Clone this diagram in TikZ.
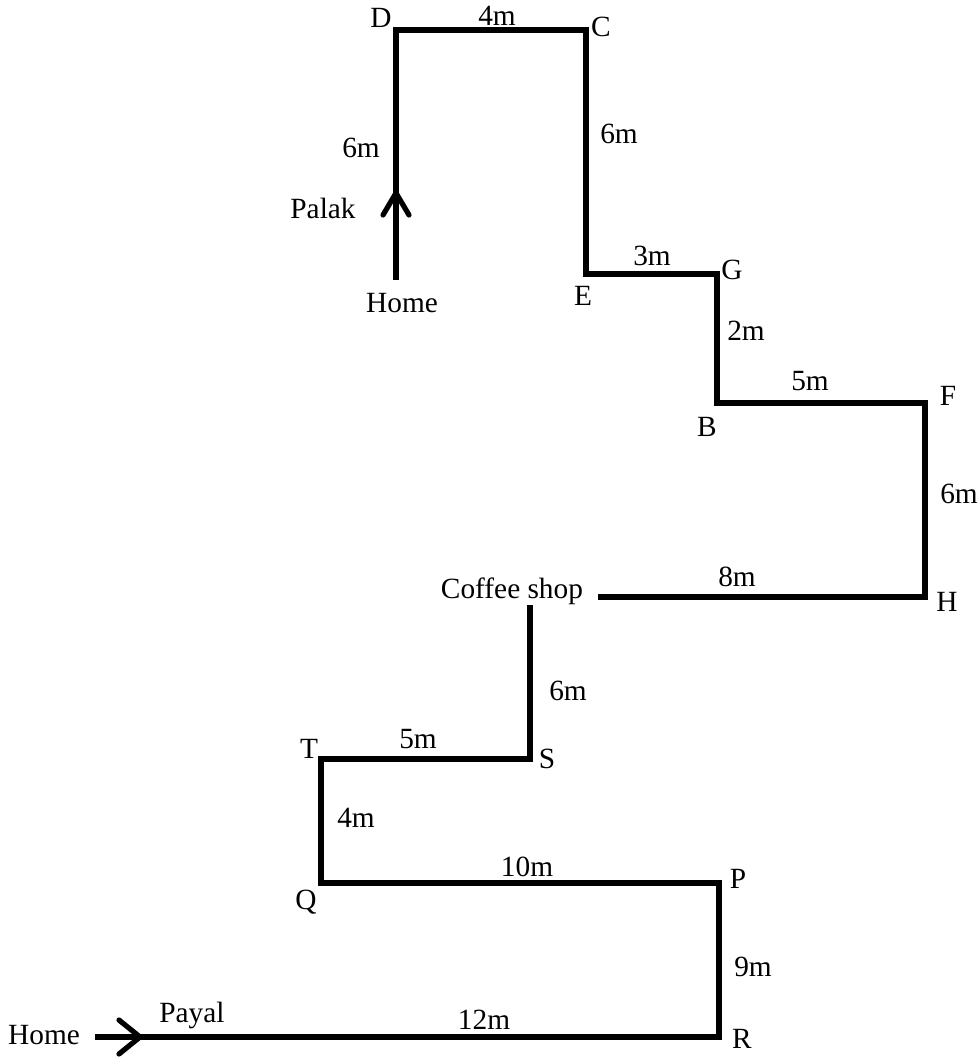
\documentclass[tikz,border=0pt]{standalone}
\usepackage{fontspec}
\setmainfont{Liberation Serif}
\begin{document}
\begin{tikzpicture}[x=0.75pt,y=-0.75pt,
  path/.style={line width=3.9pt,line join=miter},
  chev/.style={line width=3.9pt,line cap=round,line join=miter},
  lbl/.style={font=\fontsize{22}{26}\selectfont,inner sep=0pt}]
\useasboundingbox (0,0) rectangle (978,1057);
% Palak route corners
\coordinate (PH) at (396,280);
\coordinate (D) at (396,30);
\coordinate (C) at (586,30);
\coordinate (E) at (586,274);
\coordinate (G) at (717,274);
\coordinate (B) at (717,403);
\coordinate (F) at (925,403);
\coordinate (H) at (925,597);
\coordinate (CS1) at (598,597);
\draw[path] (PH) -- (D) -- (C) -- (E) -- (G) -- (B) -- (F) -- (H) -- (CS1);
\coordinate (PA) at (396,193);
\coordinate (PA1) at (383,215);
\coordinate (PA2) at (409,215);
\draw[chev] (PA1) -- (PA) -- (PA2);
% Payal route corners
\coordinate (YH) at (95,1037);
\coordinate (R) at (719,1037);
\coordinate (P) at (719,883);
\coordinate (Q) at (321,883);
\coordinate (T) at (321,759);
\coordinate (S) at (530,759);
\coordinate (CS2) at (530,605);
\draw[path] (YH) -- (R) -- (P) -- (Q) -- (T) -- (S) -- (CS2);
\coordinate (YA) at (140,1037);
\coordinate (YA1) at (119,1020);
\coordinate (YA2) at (119,1054);
\draw[chev] (YA1) -- (YA) -- (YA2);
% labels
\node[lbl] (lD) at (381,18) {D};
\node[lbl] (lC) at (601,27) {C};
\node[lbl] (l4m) at (497,16) {4m};
\node[lbl] (l6a) at (361,148) {6m};
\node[lbl] (lPalak) at (323,208) {Palak};
\node[lbl] (lHome1) at (402,303) {Home};
\node[lbl] (l6b) at (619,134) {6m};
\node[lbl] (lE) at (583,296) {E};
\node[lbl] (l3m) at (652,256) {3m};
\node[lbl] (lG) at (732,270) {G};
\node[lbl] (l2m) at (746,331) {2m};
\node[lbl] (l5a) at (810,381) {5m};
\node[lbl] (lF) at (948,396) {F};
\node[lbl] (lB) at (707,427) {B};
\node[lbl] (l6c) at (959,494) {6m};
\node[lbl] (lH) at (947,602) {H};
\node[lbl] (l8m) at (737,577) {8m};
\node[lbl] (lCS) at (512,591) {Coffee shop};
\node[lbl] (l6d) at (568,691) {6m};
\node[lbl] (lT) at (309,749) {T};
\node[lbl] (lS) at (547,759) {S};
\node[lbl] (l5b) at (418,739) {5m};
\node[lbl] (l4b) at (356,818) {4m};
\node[lbl] (l10) at (527,867) {10m};
\node[lbl] (lP) at (738,879) {P};
\node[lbl] (lQ) at (306,902) {Q};
\node[lbl] (l9m) at (753,967) {9m};
\node[lbl] (lR) at (742,1039) {R};
\node[lbl] (l12) at (484,1020) {12m};
\node[lbl] (lPayal) at (192,1015) {Payal};
\node[lbl] (lHome2) at (44,1035) {Home};
\end{tikzpicture}
\end{document}
